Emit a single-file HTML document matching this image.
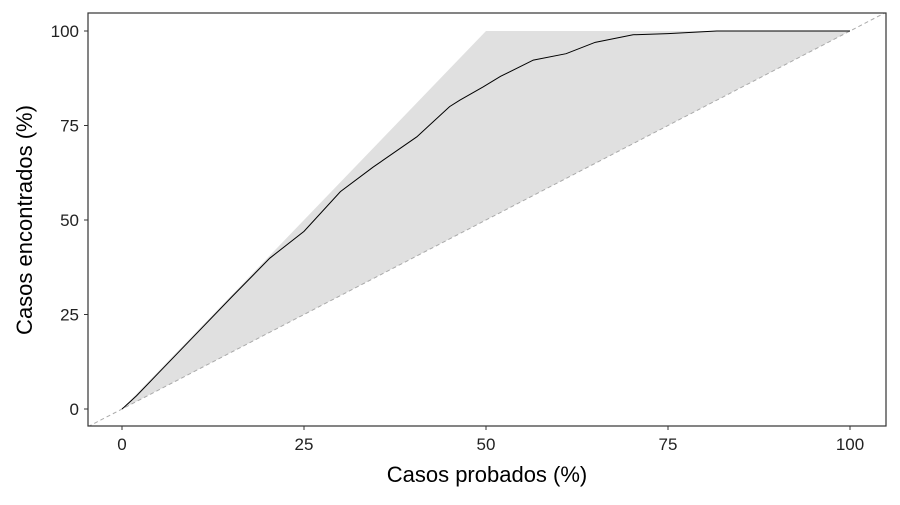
<!DOCTYPE html>
<html><head><meta charset="utf-8"><style>
body{margin:0;background:#fff;font-family:"Liberation Sans",sans-serif}
</style></head><body>
<svg id="chart" width="900" height="500" xmlns="http://www.w3.org/2000/svg"></svg>
<script>
const casesTested = [0,0.3,2,5,10,15,20.3,25,30,34.5,40.5,45,46.4,49.6,52,56.5,61,65,70.2,75,81.7,90,100];
const casesFound  = [0,0.5,3.5,9.5,19.5,29.5,39.9,47,57.5,64,72,80,81.7,85.2,88,92.3,94,97,99,99.3,100,100,100];
const xTicks = [0,25,50,75,100];
const yTicks = [0,25,50,75,100];
const NS='http://www.w3.org/2000/svg';
const svg=document.getElementById('chart');
const L=88,R=886,T=13,B=426;
const xs=v=>122+v*7.28, ys=v=>409-v*3.78;
function mk(t,a,p){const e=document.createElementNS(NS,t);for(const k in a)e.setAttribute(k,a[k]);(p||svg).appendChild(e);return e;}
const bg=mk('rect',{x:L,y:T,width:R-L,height:B-T,fill:'#fff'});


const cp=mk('clipPath',{id:'cp'});mk('rect',{x:L,y:T,width:R-L,height:B-T},cp);
const band=mk('polygon',{points:`${xs(0)},${ys(0)} ${xs(50)},${ys(100)} ${xs(100)},${ys(100)}`,fill:'#e0e0e0'});


const diag=mk('line',{x1:L,y1:ys((L-122)/7.28),x2:R,y2:ys((R-122)/7.28),stroke:'#aaa','stroke-dasharray':'4,3','stroke-width':1,'clip-path':'url(#cp)'});


const pts=casesTested.map((v,i)=>xs(v)+','+ys(casesFound[i])).join(' ');
const line=mk('polyline',{points:pts,fill:'none',stroke:'#000','stroke-width':1});


const fr=mk('rect',{x:L,y:T,width:R-L,height:B-T,fill:'none',stroke:'#333','stroke-width':1.2});


xTicks.forEach(v=>{
  mk('line',{x1:xs(v),x2:xs(v),y1:B,y2:B+4,stroke:'#333'});
  const t=mk('text',{x:xs(v),y:B+24,'text-anchor':'middle','font-size':17,fill:'#222'});t.textContent=v;
  
  
});
yTicks.forEach(v=>{
  mk('line',{x1:L-4,x2:L,y1:ys(v),y2:ys(v),stroke:'#333'});
  const t=mk('text',{x:L-9,y:ys(v)+6,'text-anchor':'end','font-size':17,fill:'#222'});t.textContent=v;
  
  
});
const xt=mk('text',{x:487,y:482,'text-anchor':'middle','font-size':22,fill:'#000'});xt.textContent='Casos probados (%)';


const yt=mk('text',{x:0,y:0,transform:'translate(32,220) rotate(-90)','text-anchor':'middle','font-size':22,fill:'#000'});yt.textContent='Casos encontrados (%)';


</script>
</body></html>
